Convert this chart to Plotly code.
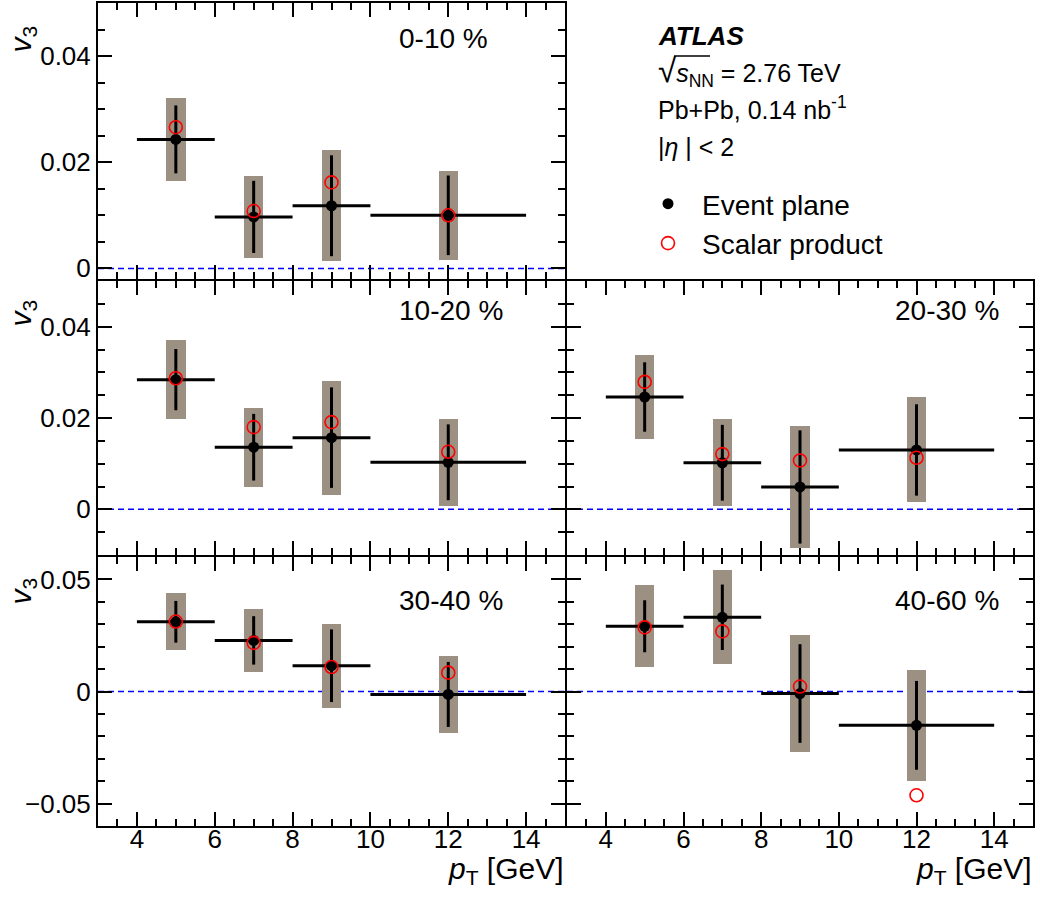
import plotly.graph_objects as go

W, H = 1040, 897
FONT = "Liberation Sans, Arial, Helvetica, sans-serif"

# ---------------- data ----------------
pt_centers = [5, 7, 9, 12]
pt_halfwidths = [1, 1, 1, 2]

ep_0_10 = [0.0243, 0.0097, 0.0118, 0.0100]
stat_0_10 = [0.0064, 0.0068, 0.0095, 0.0075]
sys_0_10 = [0.0078, 0.0077, 0.0105, 0.0084]
sp_0_10 = [0.0266, 0.0108, 0.0162, 0.0100]

ep_10_20 = [0.0284, 0.0136, 0.0157, 0.0103]
stat_10_20 = [0.0067, 0.0073, 0.0110, 0.0083]
sys_10_20 = [0.0086, 0.0087, 0.0125, 0.0095]
sp_10_20 = [0.0287, 0.0180, 0.0191, 0.0126]

ep_20_30 = [0.0246, 0.0102, 0.0049, 0.0130]
stat_20_30 = [0.0076, 0.0083, 0.0124, 0.0100]
sys_20_30 = [0.0093, 0.0095, 0.0134, 0.0115]
sp_20_30 = [0.0279, 0.0121, 0.0107, 0.0113]

ep_30_40 = [0.0311, 0.0228, 0.0115, -0.0013]
stat_30_40 = [0.0093, 0.0108, 0.0162, 0.0145]
sys_30_40 = [0.0128, 0.0140, 0.0187, 0.0172]
sp_30_40 = [0.0312, 0.0217, 0.0109, 0.0084]

ep_40_60 = [0.0291, 0.0331, -0.0009, -0.0151]
stat_40_60 = [0.0116, 0.0146, 0.0220, 0.0198]
sys_40_60 = [0.0182, 0.0210, 0.0262, 0.0248]
sp_40_60 = [0.0286, 0.0268, 0.0022, -0.0463]

centrality_labels = ["0-10 %", "10-20 %", "20-30 %", "30-40 %", "40-60 %"]

# ---------------- layout geometry (pixels) ----------------
col_px = [(98, 565), (567, 1033)]
row_px = [(3, 279), (281, 555), (557, 826)]
row_ranges = [[-0.002, 0.05], [-0.01, 0.05], [-0.06, 0.06]]
row_dtick = [0.02, 0.02, 0.05]
row_minor = [0.005, 0.005, 0.01]

SYS_COLOR = "#9c9083"
BOX_W = 0.5


def px_x(p):
    return p / W


def px_y(p):
    return 1 - p / H


def axname(i):
    return "" if i == 1 else str(i)


panel_pos = [(0, 0), (1, 0), (1, 1), (2, 0), (2, 1)]
panel_data = [
    (ep_0_10, stat_0_10, sys_0_10, sp_0_10),
    (ep_10_20, stat_10_20, sys_10_20, sp_10_20),
    (ep_20_30, stat_20_30, sys_20_30, sp_20_30),
    (ep_30_40, stat_30_40, sys_30_40, sp_30_40),
    (ep_40_60, stat_40_60, sys_40_60, sp_40_60),
]

fig = go.Figure()
shapes = []
annotations = []

for k, ((r, c), (ep, stat, sys, sp)) in enumerate(zip(panel_pos, panel_data)):
    i = r * 2 + c + 1
    xa, ya = "x" + axname(i), "y" + axname(i)
    fig.add_trace(go.Bar(
        x=pt_centers, y=[2 * s for s in sys], base=[v - s for v, s in zip(ep, sys)],
        width=BOX_W, marker=dict(color=SYS_COLOR, line=dict(width=0)),
        xaxis=xa, yaxis=ya, showlegend=False, hoverinfo="skip"))
    fig.add_trace(go.Scatter(
        x=pt_centers, y=ep, mode="markers", name="Event plane",
        marker=dict(color="black", size=11, symbol="circle"),
        error_x=dict(type="data", array=pt_halfwidths, color="black", thickness=3, width=0),
        error_y=dict(type="data", array=stat, color="black", thickness=3, width=0),
        xaxis=xa, yaxis=ya, showlegend=(k == 0), legendgroup="ep"))
    fig.add_trace(go.Scatter(
        x=pt_centers, y=sp, mode="markers", name="Scalar product",
        marker=dict(color="red", size=13, symbol="circle-open", line=dict(color="red", width=1.6)),
        xaxis=xa, yaxis=ya, showlegend=(k == 0), legendgroup="sp"))
    shapes.append(dict(type="line", xref=xa + " domain", yref=ya, x0=0, x1=1, y0=0, y1=0,
                       line=dict(color="blue", width=1.5, dash="6px,4px"), layer="below"))

layout = {}
for r in range(3):
    for c in range(2):
        i = r * 2 + c + 1
        n = axname(i)
        layout["xaxis" + n] = dict(
            domain=[px_x(col_px[c][0]), px_x(col_px[c][1])], range=[3, 15],
            anchor="y" + n, showline=True, mirror="allticks", linecolor="black", linewidth=2,
            ticks="inside", ticklen=14, tickwidth=2, tickcolor="black", dtick=2, tick0=0,
            minor=dict(dtick=0.5, tick0=0, ticks="inside", ticklen=7, tickwidth=1.5, tickcolor="black"),
            showgrid=False, zeroline=False, showticklabels=(r == 2), ticklabelstandoff=-11,
            tickfont=dict(size=26, family=FONT, color="black"), fixedrange=True, automargin=False)
        layout["yaxis" + n] = dict(
            domain=[px_y(row_px[r][1]), px_y(row_px[r][0])], range=row_ranges[r],
            anchor="x" + n, showline=True, mirror="allticks", linecolor="black", linewidth=2,
            ticks="inside", ticklen=14, tickwidth=2, tickcolor="black", dtick=row_dtick[r], tick0=0,
            minor=dict(dtick=row_minor[r], tick0=0, ticks="inside", ticklen=7, tickwidth=1.5, tickcolor="black"),
            showgrid=False, zeroline=False, showticklabels=(c == 0),
            tickfont=dict(size=26, family=FONT, color="black"), fixedrange=True, automargin=False)

# centrality labels
label_pos = [(397, 38), (397, 311), (893, 311), (397, 600), (893, 600)]
for lab, (lx, ly) in zip(centrality_labels, label_pos):
    annotations.append(dict(text=lab, x=px_x(lx), y=px_y(ly), xref="paper", yref="paper",
                            xanchor="left", yanchor="middle", showarrow=False,
                            font=dict(size=28, family=FONT, color="black")))

# y titles
for ty in [24, 298, 576]:
    annotations.append(dict(text="<i>v</i><sub>3</sub>", x=px_x(22), y=px_y(ty), xref="paper", yref="paper",
                            xanchor="center", yanchor="top", textangle=-90, showarrow=False,
                            font=dict(size=30, family=FONT, color="black")))

# x titles
for tx in [566, 1034]:
    annotations.append(dict(text="<i>p</i><sub>T</sub> [GeV]", x=px_x(tx), y=px_y(891), xref="paper", yref="paper",
                            xanchor="right", yanchor="bottom", showarrow=False,
                            font=dict(size=30, family=FONT, color="black")))

# ATLAS info text
info = [
    ("<b><i>ATLAS</i></b>", 36, 26),
    ("<span style='font-size:33px'>√</span><i>s</i><sub>NN</sub> = 2.76 TeV", 72, 25),
    ("Pb+Pb, 0.14 nb<sup>-1</sup>", 108, 25),
    ("|<i>η</i> | < 2", 147, 25),
]
for txt, ty, fs in info:
    annotations.append(dict(text=txt, x=px_x(656), y=px_y(ty), xref="paper", yref="paper",
                            xanchor="left", yanchor="middle", showarrow=False,
                            font=dict(size=fs, family=FONT, color="black")))
# overline for the square root
shapes.append(dict(type="line", xref="paper", yref="paper", x0=px_x(674), x1=px_x(710),
                   y0=px_y(56), y1=px_y(56), line=dict(color="black", width=1.3)))

fig.update_layout(
    width=W, height=H, margin=dict(l=0, r=0, t=0, b=0),
    paper_bgcolor="white", plot_bgcolor="white",
    barmode="overlay", bargap=0,
    shapes=shapes, annotations=annotations,
    legend=dict(x=px_x(634), y=px_y(179), xanchor="left", yanchor="top",
                font=dict(size=28, family=FONT, color="black"), bgcolor="rgba(0,0,0,0)",
                itemwidth=58, tracegroupgap=0),
    font=dict(family=FONT, color="black"),
    **layout,
)

fig.write_html("out.html", config={"displayModeBar": False},
               post_script="document.body.style.margin='0px';document.documentElement.style.overflow='hidden';")
